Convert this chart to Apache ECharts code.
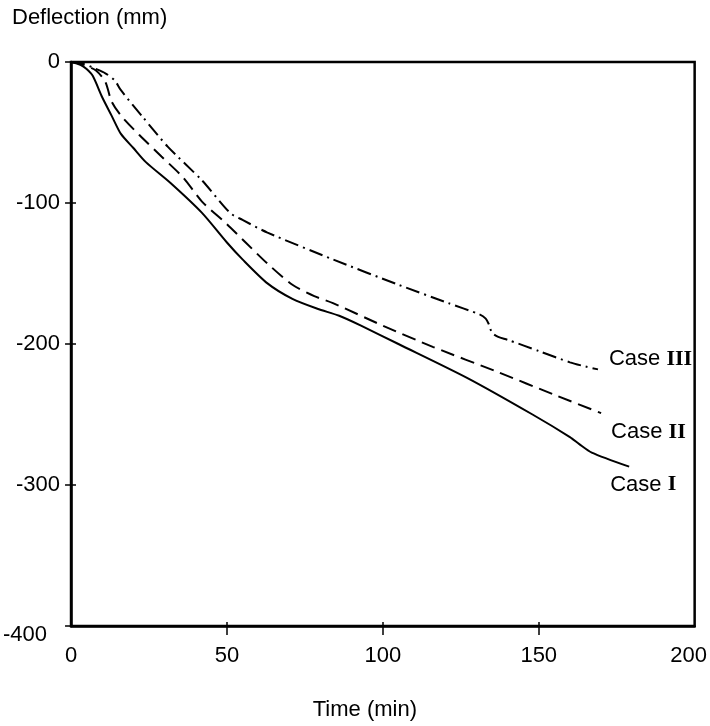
<!DOCTYPE html>
<html>
<head>
<meta charset="utf-8">
<script src="https://cdn.jsdelivr.net/npm/echarts@6/dist/echarts.min.js"></script>
<style>
html,body{margin:0;padding:0;background:#fff;}
#chart{width:710px;height:726px;}
</style>
</head>
<body>
<div id="chart"></div>
<script>
// Time (min), Deflection (mm)
const caseI = [
  [0,0],[3,-2],[5,-5],[7,-10],[10,-25],[13,-38],[16,-51],[20,-61],[24,-71],[32,-86],
  [42,-107],[50,-128],[55,-140],[63,-157],[71,-168],[79,-175],[86,-180],[93,-187],
  [105,-200],[127,-224],[148,-250],[160,-266],[163,-271],[167,-277],[179,-287]
];
const caseII = [
  [0,0],[4,-2],[8,-6],[11,-14],[13,-28],[16,-38],[22,-52],[29,-67],[36,-82],[42,-99],
  [50,-115],[56,-128],[63,-143],[71,-158],[78,-166],[84,-171],[100,-187],[116,-202],
  [137,-220],[155,-236],[170,-249]
];
const caseIII = [
  [0,0],[4,-1],[7,-4],[11,-8],[14,-13],[16,-20],[23,-39],[31,-60],[42,-84],[51,-107],
  [55,-112],[63,-121],[84,-140],[105,-158],[121,-171],[131,-179],[133,-182],[134,-186],
  [135,-192],[137,-195],[140,-197],[150,-205],[160,-213],[165,-216],[169,-218]
];
const caseNames = ['I','II','III'];
const xTicks = [0,50,100,150,200];
const yTicks = [0,-100,-200,-300,-400];
const xInnerTicks = [50,100,150];

const SANS = "'Liberation Sans Narrow','Arial Narrow','Liberation Sans',Arial,sans-serif";
const SERIF = "'Liberation Serif','Times New Roman',serif";
const FS = 22;

function mkLabel(name, offset){
  return {
    show:true,
    offset: offset,
    formatter: '{a|Case }{b|' + name + '}',
    rich:{
      a:{fontFamily:SANS,fontSize:FS,color:'#000'},
      b:{fontFamily:SERIF,fontSize:FS,fontWeight:'bold',color:'#000'}
    }
  };
}

const chart = echarts.init(document.getElementById('chart'), null, {renderer:'canvas'});
chart.setOption({
  animation:false,
  backgroundColor:'#fff',
  title:{
    text:'Deflection (mm)', left:7, top:2,
    textStyle:{fontFamily:SANS,fontSize:FS,fontWeight:'normal',color:'#000'}
  },
  grid:{left:70,right:13,top:62,bottom:89,show:true,borderColor:'#000',borderWidth:2.5,containLabel:false},
  xAxis:[{
    type:'value',min:xTicks[0],max:xTicks[xTicks.length-1],interval:50,
    name:'Time (min)',nameLocation:'middle',nameGap:73,
    nameTextStyle:{fontFamily:SANS,fontSize:FS,color:'#000',padding:[0,36,0,0]},
    axisLine:{show:true,onZero:false,lineStyle:{color:'#000',width:2.5}},
    axisTick:{show:true,inside:false,length:9,customValues:xInnerTicks,lineStyle:{color:'#000',width:1.5}},
    axisLabel:{fontFamily:SANS,fontSize:FS,color:'#000',margin:19,
      formatter:function(v){ return v===200 ? '{r|'+v+'}' : '{n|'+v+'}'; },
      rich:{
        n:{fontFamily:SANS,fontSize:FS,color:'#000'},
        r:{fontFamily:SANS,fontSize:FS,color:'#000',padding:[0,12,0,0]}
      }
    },
    splitLine:{show:false}
  },{
    type:'value',min:xTicks[0],max:xTicks[xTicks.length-1],interval:50,position:'bottom',
    axisLine:{show:false,onZero:false},
    axisTick:{show:true,inside:true,length:4,customValues:xInnerTicks,lineStyle:{color:'#000',width:1.5}},
    axisLabel:{show:false},
    splitLine:{show:false}
  }],
  yAxis:[{
    type:'value',min:yTicks[yTicks.length-1],max:yTicks[0],interval:100,
    axisLine:{show:true,onZero:false,lineStyle:{color:'#000',width:2.5}},
    axisTick:{show:true,inside:false,length:6,lineStyle:{color:'#000',width:1.5}},
    axisLabel:{fontFamily:SANS,fontSize:FS,color:'#000',margin:11,
      formatter:function(v){ return v===-400 ? '{d|'+v+'}' : '{n|'+v+'}'; },
      rich:{
        n:{fontFamily:SANS,fontSize:FS,color:'#000'},
        d:{fontFamily:SANS,fontSize:FS,color:'#000',padding:[18,13,0,0]}
      }
    },
    splitLine:{show:false}
  },{
    type:'value',min:yTicks[yTicks.length-1],max:yTicks[0],interval:100,position:'left',
    axisLine:{show:false,onZero:false},
    axisTick:{show:true,inside:true,length:5,lineStyle:{color:'#000',width:1.5}},
    axisLabel:{show:false},
    splitLine:{show:false}
  }],
  series:[
    {name:'Case I',type:'line',data:caseI,showSymbol:false,smooth:0.25,
      lineStyle:{color:'#000',width:2,type:'solid'},
      endLabel:mkLabel(caseNames[0],[-27,18])},
    {name:'Case II',type:'line',data:caseII,showSymbol:false,smooth:0.25,
      lineStyle:{color:'#000',width:2,type:[14,7]},
      endLabel:mkLabel(caseNames[1],[2,19])},
    {name:'Case III',type:'line',data:caseIII,showSymbol:false,smooth:0.25,
      lineStyle:{color:'#000',width:2,type:[14,5,2,5]},
      endLabel:mkLabel(caseNames[2],[3,-10])}
  ]
});
</script>
</body>
</html>
